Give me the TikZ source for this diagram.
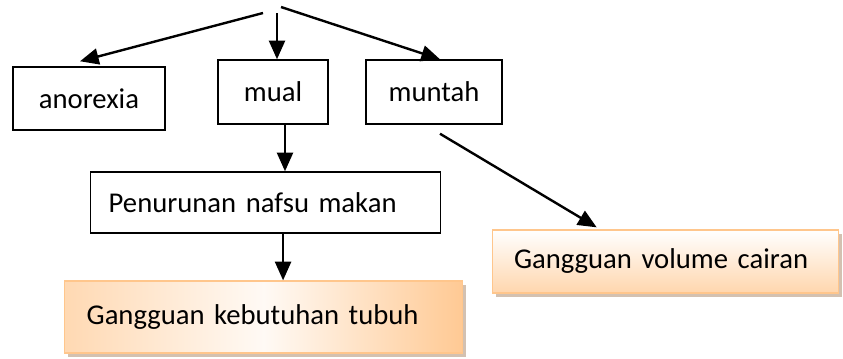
\documentclass[tikz,border=0pt]{standalone}
\usepackage{fontspec}
\setmainfont{Carlito}
\usetikzlibrary{arrows.meta,positioning,calc,shadows}
\tikzset{
  blk/.style={draw,rectangle,line width=1.1pt,align=center,inner sep=0pt,
    font=\fontsize{21.5}{26}\selectfont},
  oblk/.style={blk,draw=orange!45,line width=1pt,align=left,anchor=west,
    drop shadow={shadow xshift=2.2pt,shadow yshift=-3pt,fill=brown!55!gray!60,opacity=0.8}},
  hblk/.style={oblk,shading=axis,left color=orange!30,right color=orange!42,middle color=orange!4},
  vblk/.style={oblk,shading=axis,top color=white,bottom color=orange!32},
  arr/.style={-{Triangle[length=14pt,width=12pt]},line width=1.8pt}
}

\begin{document}
\begin{tikzpicture}[x=0.75pt,y=-0.75pt]
  \useasboundingbox (0,0) rectangle (843,358);
  \coordinate (root) at (277,10);
  \node[blk,minimum width=114pt,minimum height=47.25pt] (anor) at (89,98.5) {anorexia};
  \node[blk,minimum width=82.5pt,minimum height=48pt] (mual) at (273,92) {mual};
  \node[blk,minimum width=102pt,minimum height=48pt] (munt) at (434,92) {muntah};
  \node[blk,align=left,anchor=west,text width=235.5pt,inner xsep=13.5pt,minimum height=45.75pt] (pen) at (90,202.5) {Penurunan nafsu makan};
  \node[hblk,text width=265.5pt,inner xsep=16.5pt,minimum height=54pt] (keb) at (64,317) {Gangguan kebutuhan tubuh};
  \node[vblk,text width=227.5pt,inner xsep=16pt,minimum height=47.25pt] (vol) at (492,261.5) {Gangguan volume cairan};

  \draw[arr] ($(root)+(-14,3)$) -- ([shift={(-6.75pt,3.75pt)}]anor.north);
  \draw[arr] ($(root)+(0,3)$) -- (root |- mual.north);
  \draw[arr] ($(root)+(4,-3)$) -- ([xshift=4.5pt]munt.north);
  \draw[arr] ([xshift=9pt]mual.south) -- ([xshift=9pt]mual.south |- pen.north);
  \draw[arr] ([xshift=13pt]pen.south) -- ([xshift=13pt]pen.south |- keb.north);
  \draw[arr] ([shift={(4.5pt,-6.75pt)}]munt.south) -- ([shift={(-51.75pt,1.5pt)}]vol.north);
\end{tikzpicture}
\end{document}
